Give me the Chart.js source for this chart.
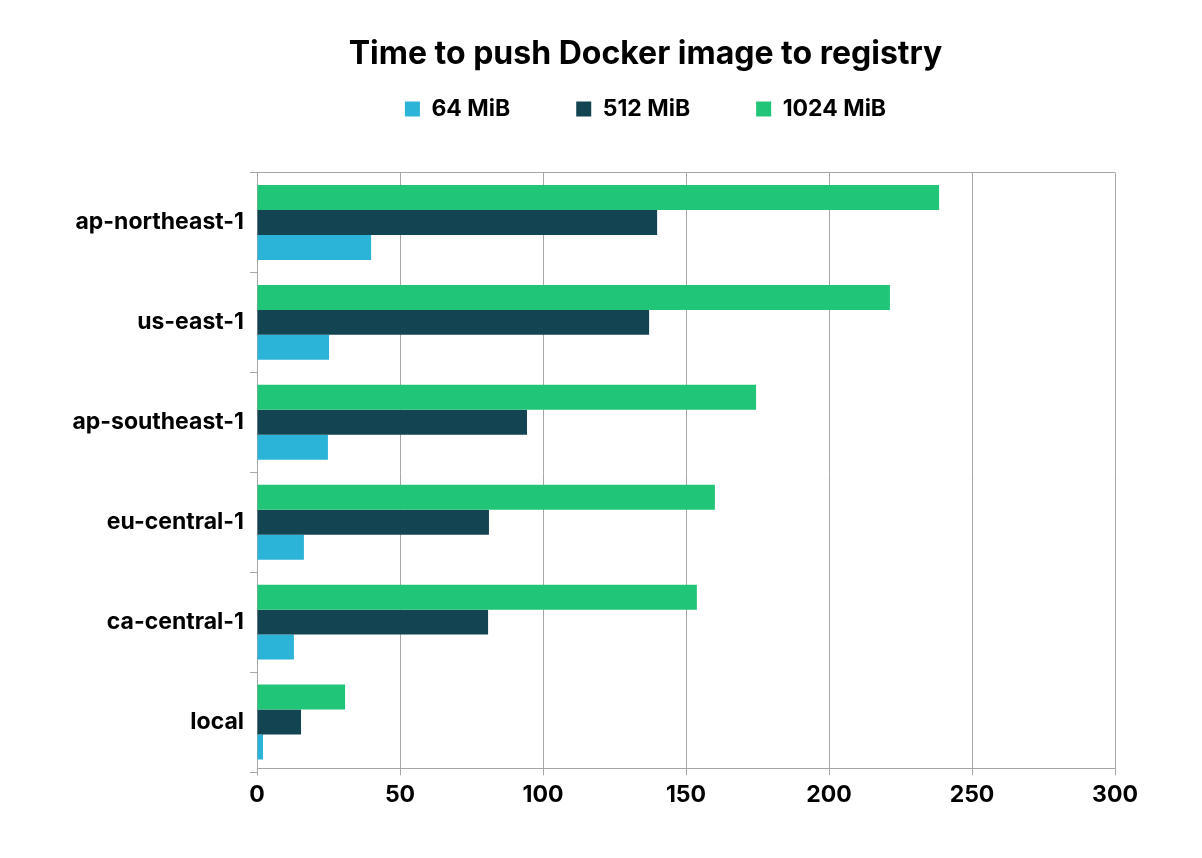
<!DOCTYPE html>
<html><head><meta charset="utf-8">
<script src="https://cdn.jsdelivr.net/npm/chart.js@4/dist/chart.umd.min.js"></script>
<style>html,body{margin:0;padding:0;background:#fff}</style>
</head><body>
<canvas id="c" width="1202" height="858"></canvas>
<script>
const categories = ['ap-northeast-1','us-east-1','ap-southeast-1','eu-central-1','ca-central-1','local'];
const mib1024 = [238.5, 221.3, 174.5, 160.1, 153.8, 30.8];
const mib512 = [139.9, 137.1, 94.4, 81.1, 80.8, 15.4];
const mib64 = [39.9, 25.2, 24.8, 16.4, 12.9, 2.1];
const xTicks = [0, 50, 100, 150, 200, 250, 300];

const FONT = 'Inter, "Open Sans", sans-serif';
const GRID = '#a6a6a6';
const PAD_LEFT = 176;
const Y_FONT = {family: FONT, size: 23, weight: 'bold'};

// measure widest category label so right-aligned labels can sit left of the axis
const mctx = document.createElement('canvas').getContext('2d');
mctx.font = 'bold 23px ' + FONT;
const widest = Math.max(...categories.map(c => mctx.measureText(c).width));

new Chart(document.getElementById('c'), {
  type: 'bar',
  data: {
    labels: categories,
    datasets: [
      {label: '1024 MiB', data: mib1024, backgroundColor: '#21c577'},
      {label: '512 MiB', data: mib512, backgroundColor: '#134451'},
      {label: '64 MiB', data: mib64, backgroundColor: '#2bb3d8'}
    ]
  },
  options: {
    indexAxis: 'y',
    responsive: false,
    animation: false,
    datasets: {bar: {categoryPercentage: 0.75, barPercentage: 1}},
    layout: {padding: {left: PAD_LEFT, right: 87, top: 35, bottom: 0}},
    plugins: {
      tooltip: {enabled: false},
      title: {
        display: true,
        text: 'Time to push Docker image to registry',
        color: '#000',
        font: {family: FONT, size: 32, weight: 'bold'},
        padding: {top: 0, bottom: -42}
      },
      legend: {
        reverse: true,
        labels: {
          color: '#000',
          font: {family: FONT, size: 23, weight: 'bold'},
          boxWidth: 15, boxHeight: 15,
          padding: 66
        }
      }
    },
    scales: {
      x: {
        min: 0, max: 300,
        afterBuildTicks: (s) => { s.ticks = xTicks.map(v => ({value: v})); },
        afterFit: (s) => { s.height = 86; },
        grid: {color: GRID, tickLength: 7, tickColor: GRID},
        border: {color: GRID},
        ticks: {color: '#000', font: {family: FONT, size: 23, weight: 'bold'}, padding: 6, maxRotation: 0}
      },
      xTop: {
        type: 'linear',
        axis: 'x',
        position: 'top',
        display: true,
        min: 0, max: 300,
        afterFit: (s) => { s.height = 38.5; },
        grid: {display: false},
        border: {display: false},
        ticks: {display: false}
      },
      y: {
        afterFit: (s) => { s.width = 257 - PAD_LEFT; },
        grid: {
          offset: true,
          color: (ctx) => ctx.index === 0 ? GRID : 'rgba(0,0,0,0)',
          tickColor: GRID,
          tickLength: 7
        },
        border: {color: GRID},
        ticks: {
          color: '#000', font: Y_FONT,
          mirror: true, crossAlign: 'far',
          padding: -(widest + 13)
        }
      }
    }
  }
});
</script>
</body></html>
